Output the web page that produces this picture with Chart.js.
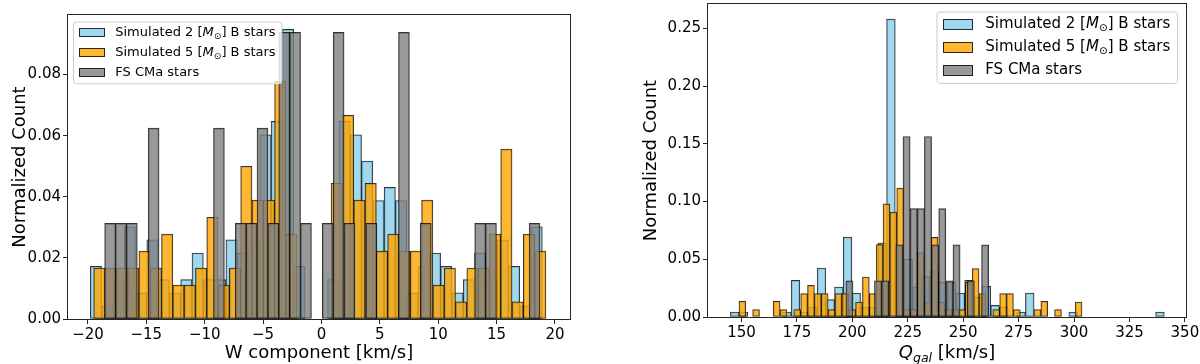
<!DOCTYPE html>
<html><head><meta charset="utf-8">
<script src="https://cdn.jsdelivr.net/npm/chart.js@4.4.1/dist/chart.umd.min.js"></script>
<style>
html,body{margin:0;padding:0;background:#fff;}
#wrap{position:relative;width:1200px;height:364px;overflow:hidden;}
.c{position:absolute;top:0;width:600px;height:364px;}
</style></head><body>
<div id="wrap">
<div class="c" style="left:0"><canvas id="cW" width="600" height="364"></canvas></div>
<div class="c" style="left:600px"><canvas id="cQ" width="600" height="364"></canvas></div>
</div>
<script>
// ---------- data (normalized counts per histogram bin) ----------
const SERIES_LABELS = ['Simulated 2 [$M_⊙$] B stars', 'Simulated 5 [$M_⊙$] B stars', 'FS CMa stars'];

// Left panel: W component [km/s], 40 bins per series over each series' own range
const W_BLUE_RANGE = [-19.80, 18.92];
const W_BLUE = [0.0172, 0.0043, 0.0129, 0.0302, 0.0086, 0.0259, 0.0129, 0.0086, 0.0129, 0.0216,
  0.0129, 0.0129, 0.0259, 0.0216, 0.0259, 0.0603, 0.0647, 0.0948, 0.0172, 0,
  0, 0.0129, 0.0647, 0.0603, 0.0517, 0.0388, 0.0431, 0.0388, 0.0086, 0.0172,
  0.0216, 0.0172, 0.0086, 0.0129, 0.0216, 0.0129, 0.0259, 0.0172, 0.0043, 0.0302];
const W_ORANGE_RANGE = [-19.51, 19.23];
const W_ORANGE = [0.0167, 0.0167, 0.0167, 0.0167, 0.0222, 0.0167, 0.0278, 0.0111, 0.0111, 0.0167,
  0.0333, 0.0111, 0.0167, 0.0500, 0.0389, 0.0389, 0.0778, 0.0278, 0, 0,
  0, 0.0444, 0.0667, 0.0389, 0.0444, 0.0222, 0.0278, 0.0222, 0.0222, 0.0389,
  0.0111, 0.0167, 0.0056, 0.0167, 0.0167, 0.0278, 0.0556, 0.0056, 0.0278, 0.0222];
const W_GRAY_RANGE = [-18.57, 18.72];
const W_GRAY = [0.0313, 0.0313, 0.0313, 0, 0.0625, 0, 0, 0, 0, 0,
  0.0625, 0, 0.0313, 0.0313, 0.0625, 0.0313, 0.0938, 0.0938, 0.0313, 0,
  0.0313, 0.0938, 0.0313, 0, 0.0313, 0, 0, 0.0938, 0, 0.0313,
  0, 0, 0, 0, 0.0313, 0.0313, 0, 0, 0, 0.0313];
const W_LIMITS = [-21.71, 21.29];
const W_YMAX = 0.0995;
const W_XTICK_STEP = 5;
const W_YTICK_STEP = 0.02;

// Right panel: Q_gal [km/s]
const Q_BLUE_RANGE = [145.0, 340.7];
const Q_BLUE = [0.0043, 0.0043, 0, 0, 0, 0, 0.0043, 0.0317, 0.0043, 0.0086,
  0.0424, 0.0150, 0.0260, 0.0692, 0.0208, 0.0086, 0.0086, 0.0640, 0.2580, 0.0600,
  0.0500, 0.0260, 0.0350, 0.0400, 0.0300, 0.0300, 0.0208, 0.0317, 0.0170, 0.0266,
  0.0101, 0.0086, 0, 0.0043, 0.0208, 0, 0, 0, 0, 0.0043,
  0, 0, 0, 0, 0, 0, 0, 0, 0, 0.0043];
const Q_ORANGE_RANGE = [148.85, 303.6];
const Q_ORANGE = [0.0136, 0, 0.0064, 0, 0, 0.0136, 0.0064, 0, 0.0064, 0.0202,
  0.0274, 0.0202, 0.0202, 0.0064, 0.0202, 0.0202, 0.0064, 0.0130, 0.0346, 0.0202,
  0.0626, 0.0980, 0.0908, 0.1116, 0.0064, 0.0064, 0.0557, 0.0130, 0.0690, 0.0130,
  0.0064, 0.0066, 0.0064, 0.0303, 0.0419, 0.0202, 0, 0.0064, 0.0202, 0.0202,
  0.0064, 0, 0, 0.0064, 0.0136, 0, 0.0064, 0, 0, 0.0130];
const Q_GRAY_RANGE = [197.1, 261.5];
const Q_GRAY = [0.0313, 0, 0, 0, 0.0313, 0.0313, 0, 0.0625, 0.1563, 0.0938,
  0.0938, 0.1563, 0.0625, 0.0938, 0.0313, 0.0625, 0, 0.0313, 0, 0.0625];
const Q_LIMITS = [134.9, 350.5];
const Q_YMAX = 0.271;
const Q_XTICK_STEP = 25;
const Q_YTICK_STEP = 0.05;

// ---------- styling ----------
const FONT = '"DejaVu Sans", "Liberation Sans", sans-serif';
const ALPHA = 0.8;
const FILLS = [`rgba(135,206,235,${ALPHA})`, `rgba(255,165,0,${ALPHA})`, `rgba(128,128,128,${ALPHA})`];
const EDGE = `rgba(0,0,0,${ALPHA})`;
const AXIS_COLOR = '#262626';
Chart.defaults.font.family = FONT;

function binPoints(range, values) {
  const w = (range[1] - range[0]) / values.length;
  return values.map((v, i) => ({ x: range[0] + (i + 0.5) * w, y: v }));
}
function parseRich(str) {
  const runs = [];
  str.split('$').forEach((part, i) => {
    if (!part) return;
    if (i % 2 === 0) { runs.push({ t: part }); return; }
    const [base, sub] = part.split('_');
    runs.push({ t: base, italic: true });
    if (sub) {
      const s = sub.replace(/[{}]/g, '');
      runs.push({ t: s, italic: /[a-z]/i.test(s), sub: true });
    }
  });
  return runs;
}
function runFont(r, fs) { return `${r.italic ? 'italic ' : ''}${r.sub ? fs * 0.7 : fs}px ${FONT}`; }
function richWidth(ctx, runs, fs) {
  let w = 0;
  runs.forEach(r => { ctx.font = runFont(r, fs); w += ctx.measureText(r.t).width; });
  return w;
}
function drawRich(ctx, runs, x, y, fs, color) {
  ctx.save();
  ctx.fillStyle = color; ctx.textBaseline = 'middle'; ctx.textAlign = 'left';
  let cx = x;
  runs.forEach(r => {
    ctx.font = runFont(r, fs);
    ctx.fillText(r.t, cx, r.sub ? y + fs * 0.3 : y);
    cx += ctx.measureText(r.t).width;
  });
  ctx.restore();
}

const mplDecor = {
  id: 'mplDecor',
  afterDatasetsDraw(chart, args, o) {
    const ctx = chart.ctx, a = chart.chartArea;
    const L = Math.round(a.left), T = Math.round(a.top), R = Math.round(a.right), B = Math.round(a.bottom);
    ctx.save();
    ctx.strokeStyle = AXIS_COLOR; ctx.lineWidth = 1;
    ctx.strokeRect(L - 0.5, T - 0.5, R - L + 1, B - T + 1);
    ctx.restore();
    if (o.xTitle) {
      const runs = parseRich(o.xTitle);
      const w = richWidth(ctx, runs, o.xTitleSize);
      drawRich(ctx, runs, (a.left + a.right) / 2 - w / 2, chart.height - o.xTitleSize * 0.6, o.xTitleSize, '#000');
    }
    const lg = o.legend;
    const fs = lg.fontSize;
    const items = chart.data.datasets.map(d => ({ runs: parseRich(d.label), fill: d.backgroundColor, edge: d.borderColor }));
    const tw = Math.max(...items.map(it => richWidth(ctx, it.runs, fs)));
    const padX = 0.45 * fs, hl = 2 * fs, hh = 0.7 * fs, tp = 0.8 * fs, rowS = 1.53 * fs, padY = 0.85 * fs;
    const W = padX + hl + tp + tw + padX, H = 2 * padY + (items.length - 1) * rowS;
    const x0 = lg.loc === 'right' ? a.right - lg.dx - W : a.left + lg.dx;
    const y0 = a.top + lg.dy;
    ctx.save();
    ctx.beginPath();
    if (ctx.roundRect) ctx.roundRect(x0 + 0.5, y0 + 0.5, W, H, 3); else ctx.rect(x0 + 0.5, y0 + 0.5, W, H);
    ctx.fillStyle = 'rgba(255,255,255,0.8)'; ctx.fill();
    ctx.strokeStyle = '#cccccc'; ctx.lineWidth = 1; ctx.stroke();
    items.forEach((it, i) => {
      const cy = y0 + padY + i * rowS;
      const px = Math.round(x0 + padX), py = Math.round(cy - hh / 2);
      ctx.fillStyle = it.fill; ctx.fillRect(px, py, Math.round(hl), Math.round(hh));
      ctx.strokeStyle = it.edge; ctx.lineWidth = 1;
      ctx.strokeRect(px + 0.5, py + 0.5, Math.round(hl) - 1, Math.round(hh) - 1);
      drawRich(ctx, it.runs, x0 + padX + hl + tp, cy, fs, '#000');
    });
    ctx.restore();
  }
};

function barSet(label, points, color, order, thickness) {
  const ds = {
    type: 'bar', label, data: points, xAxisID: 'x', yAxisID: 'y',
    backgroundColor: color, borderColor: EDGE, borderWidth: 1, borderSkipped: false,
    barPercentage: 1, categoryPercentage: 1, grouped: false, order
  };
  if (thickness) ds.barThickness = thickness;
  return ds;
}
function buildConfig(cfg, thick) {
  const fmtX = v => (v < 0 ? '\u2212' + Math.abs(v) : String(v));
  const series = [[cfg.blueRange, cfg.blue], [cfg.orangeRange, cfg.orange], [cfg.grayRange, cfg.gray]];
  return {
    type: 'bar',
    data: {
      datasets: series.map((s, i) => barSet(SERIES_LABELS[i], binPoints(s[0], s[1]), FILLS[i], 3 - i, thick ? thick[i] : null))
    },
    options: {
      responsive: false, animation: false, devicePixelRatio: 1,
      layout: { padding: cfg.padding },
      plugins: { legend: { display: false }, tooltip: { enabled: false }, mplDecor: cfg.decor },
      scales: {
        x: {
          type: 'linear', position: 'bottom', offset: false, min: cfg.limits[0], max: cfg.limits[1],
          ticks: { stepSize: cfg.xStep, includeBounds: false, autoSkip: false, maxRotation: 0, padding: 2, color: '#000', font: { size: 15 }, callback: fmtX },
          grid: { offset: false, drawOnChartArea: false, tickLength: 5, tickColor: AXIS_COLOR, tickWidth: 1 },
          border: { display: false },
          title: { display: !!cfg.xTitle, text: cfg.xTitle || '', color: '#000', font: { size: 18 }, padding: { top: 0, bottom: 0 } },
          afterFit(s) { s.height = cfg.xAxisH; s.paddingLeft = 0; s.paddingRight = 0; }
        },
        y: {
          type: 'linear', position: 'left', min: 0, max: cfg.ymax,
          ticks: { stepSize: cfg.yStep, includeBounds: false, padding: 2, color: '#000', font: { size: 15 }, callback: v => v.toFixed(2) },
          grid: { drawOnChartArea: false, tickLength: 5, tickColor: AXIS_COLOR, tickWidth: 1 },
          border: { display: false },
          title: { display: true, text: 'Normalized Count', color: '#000', font: { size: 18 }, padding: { top: cfg.yTitlePad, bottom: 0 } },
          afterFit(s) { s.width = cfg.yAxisW; s.paddingTop = 0; s.paddingBottom = 0; }
        }
      }
    },
    plugins: [mplDecor]
  };
}
function makeChart(canvasId, cfg) {
  const canvas = document.getElementById(canvasId);
  // first pass: lay out the scales, then measure each series' bin width in pixels through the x scale
  const probe = new Chart(canvas, buildConfig(cfg, null));
  const sx = probe.scales.x;
  const thick = [[cfg.blueRange, cfg.blue], [cfg.orangeRange, cfg.orange], [cfg.grayRange, cfg.gray]].map(([r, v]) =>
    Math.abs(sx.getPixelForValue(r[1]) - sx.getPixelForValue(r[0])) / v.length);
  probe.destroy();
  return new Chart(canvas, buildConfig(cfg, thick));
}

makeChart('cW', {
  blue: W_BLUE, blueRange: W_BLUE_RANGE, orange: W_ORANGE, orangeRange: W_ORANGE_RANGE, gray: W_GRAY, grayRange: W_GRAY_RANGE,
  limits: W_LIMITS, ymax: W_YMAX, xStep: W_XTICK_STEP, yStep: W_YTICK_STEP,
  xTitle: 'W component [km/s]', padding: { top: 15, right: 30, left: 0, bottom: 0 },
  xAxisH: 45, yAxisW: 68, yTitlePad: 10,
  decor: { legend: { loc: 'left', dx: 5, dy: 6.5, fontSize: 13 } }
});
makeChart('cQ', {
  blue: Q_BLUE, blueRange: Q_BLUE_RANGE, orange: Q_ORANGE, orangeRange: Q_ORANGE_RANGE, gray: Q_GRAY, grayRange: Q_GRAY_RANGE,
  limits: Q_LIMITS, ymax: Q_YMAX, xStep: Q_XTICK_STEP, yStep: Q_YTICK_STEP,
  xTitle: null, padding: { top: 4, right: 14, left: 0, bottom: 0 },
  xAxisH: 47, yAxisW: 108, yTitlePad: 41,
  decor: { xTitle: '$Q_{gal}$ [km/s]', xTitleSize: 18, legend: { loc: 'right', dx: 9, dy: 7.5, fontSize: 15 } }
});
</script>
</body></html>
